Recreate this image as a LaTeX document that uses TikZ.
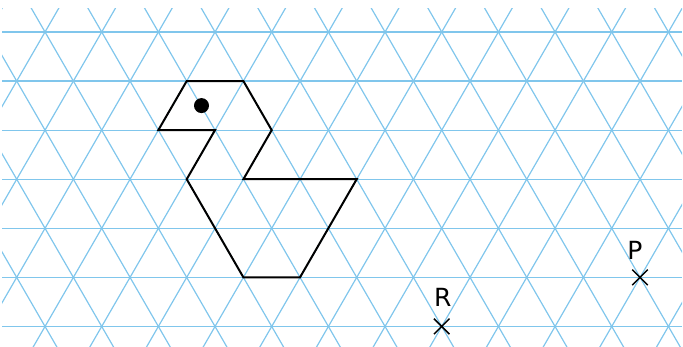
\documentclass[tikz,border=0pt]{standalone}
\usepackage{fontspec}
\setmainfont{DejaVu Sans}
\usepackage{tikz}
\usetikzlibrary{shapes.misc,positioning}

\definecolor{gitterblau}{RGB}{128,198,236}

\begin{document}
\begin{tikzpicture}[x=1pt,y=-1pt,
  gitter/.style={gitterblau, line width=1.2pt},
  figur/.style={black, line width=2pt, line join=miter},
  kreuz/.style={cross out, draw, minimum size=14pt, inner sep=0pt, line width=1.5pt},
  beschriftung/.style={inner sep=0pt, font=\fontsize{25}{30}\selectfont}]

\useasboundingbox (0,0) rectangle (683,347);

% Gitter
\begin{scope}
\clip (2,9) rectangle (682,347);
\foreach \r in {0,...,6}
  \draw[gitter] (2,{32+49.07*\r}) -- (682,{32+49.07*\r});
\foreach \k in {-4,...,15} {
  \draw[gitter] ({16.7+56.67*\k+52.58},-10) -- ({16.7+56.67*\k-161.04},360);
  \draw[gitter] ({16.7+56.67*\k-52.58},-10) -- ({16.7+56.67*\k+161.04},360);
}
\end{scope}

% Figur
\draw[figur] (186.7,81.07) -- (243.4,81.07) -- (271.7,130.14) -- (243.4,179.21)
  -- (356.7,179.21) -- (300.0,277.35) -- (243.4,277.35) -- (186.7,179.21)
  -- (215.0,130.14) -- (158.3,130.14) -- cycle;
\fill (201.5,105.6) circle (7.5); % Auge

% Punkte
\node[kreuz] (P) at (640.0,277.35) {};
\node[beschriftung, above=10pt of P, xshift=-5pt] (Plabel) {P};
\node[kreuz] (R) at (441.7,326.42) {};
\node[beschriftung, above=12pt of R, xshift=1pt] (Rlabel) {R};

\end{tikzpicture}
\end{document}
